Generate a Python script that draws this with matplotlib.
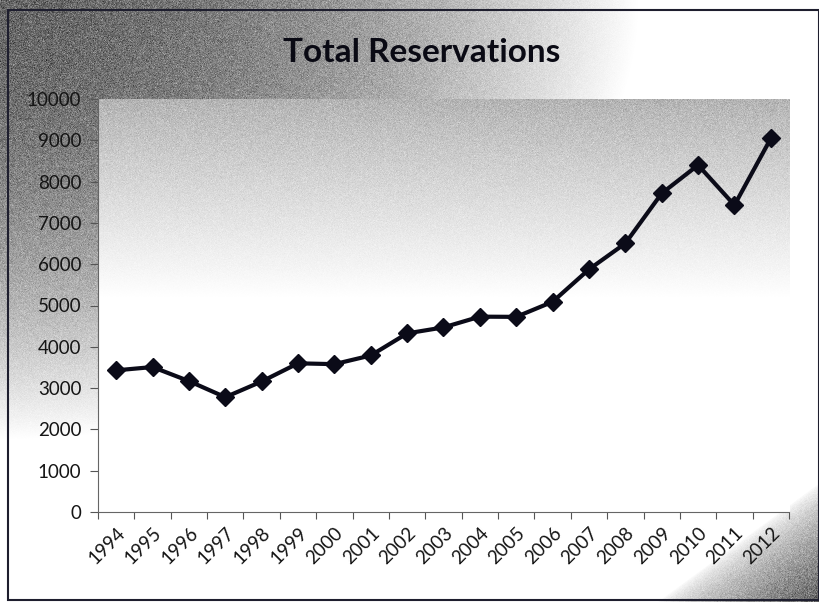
import numpy as np
import matplotlib
matplotlib.use("Agg")
import matplotlib.pyplot as plt
from matplotlib.patches import Rectangle

plt.rcParams['font.family'] = ['Lato', 'DejaVu Sans']

# Donnees
annees = [str(a) for a in range(1994, 2013)]
reservations = [3430, 3510, 3170, 2780, 3160, 3600, 3580, 3790, 4325, 4470,
                4730, 4725, 5090, 5875, 6505, 7715, 8400, 7430, 9045]
yticks = list(range(0, 10001, 1000))

W, H = 820, 602
fig = plt.figure(figsize=(W / 100, H / 100), dpi=100)

# fond degrade (decor)
yy, xx = np.mgrid[0:H, 0:W].astype(float)
r = np.sqrt((xx / 640) ** 2 + (yy / 440) ** 2)
fond = 0.40 + 0.60 * np.clip(r, 0, 1) ** 1.8
coin = (xx / W + yy / H - 1.80) / 0.20
fond = fond - 0.62 * np.clip(coin, 0, 1) ** 0.7
# zone du graphique
dans = (xx >= 98) & (xx <= 789) & (yy >= 99) & (yy <= 512)
zone = 0.70 + 0.30 * np.clip((yy - 99) / 200, 0, 1) ** 0.9
fond = np.where(dans, np.minimum(zone, 1), fond)
rng = np.random.default_rng(3)
bruit = rng.normal(0, 0.07, fond.shape) * (1 - fond) * 1.8
fond = np.clip(fond + bruit, 0, 1)

bg = fig.add_axes([0, 0, 1, 1])
bg.imshow(fond, cmap='gray', vmin=0, vmax=1, extent=(0, W, H, 0), aspect='auto')
bg.add_patch(Rectangle((8, 10), W - 9, H - 12, fill=False, ec='#1e1e2e', lw=1.5))
bg.set_xlim(0, W)
bg.set_ylim(H, 0)
bg.axis('off')

ax = fig.add_axes([98 / W, (H - 512) / H, (789 - 98) / W, (512 - 99) / H])
ax.patch.set_alpha(0)
x = np.arange(len(annees))
ax.plot(x, reservations, color='#0b0b18', lw=3, marker='D', ms=9, zorder=3)

ax.set_xlim(-0.5, len(annees) - 0.5)
ax.set_ylim(0, 10000)
ax.set_yticks(yticks)
ax.set_yticklabels([str(v) for v in yticks], fontsize=13.5, color='#151515')
ax.set_xticks(np.arange(-0.5, len(annees), 1.0))
ax.set_xticklabels([])
ax.set_xticks(x, minor=True)
ax.set_xticklabels(annees, minor=True, rotation=45, ha='right', va='top',
                   rotation_mode='anchor', fontsize=13.5, color='#151515')
ax.tick_params(axis='x', which='minor', length=0, pad=9)
ax.tick_params(axis='x', which='major', length=5, color='#555555')
ax.tick_params(axis='y', length=6, color='#555555', pad=6)
for s in ['top', 'right']:
    ax.spines[s].set_visible(False)
ax.spines['left'].set_color('#666666')
ax.spines['bottom'].set_color('#666666')

fig.text(422 / W, 1 - 53 / H, 'Total Reservations', ha='center', va='center',
         fontsize=24, fontweight='bold', color='#0a0a14')

fig.savefig('out.png', dpi=100)
